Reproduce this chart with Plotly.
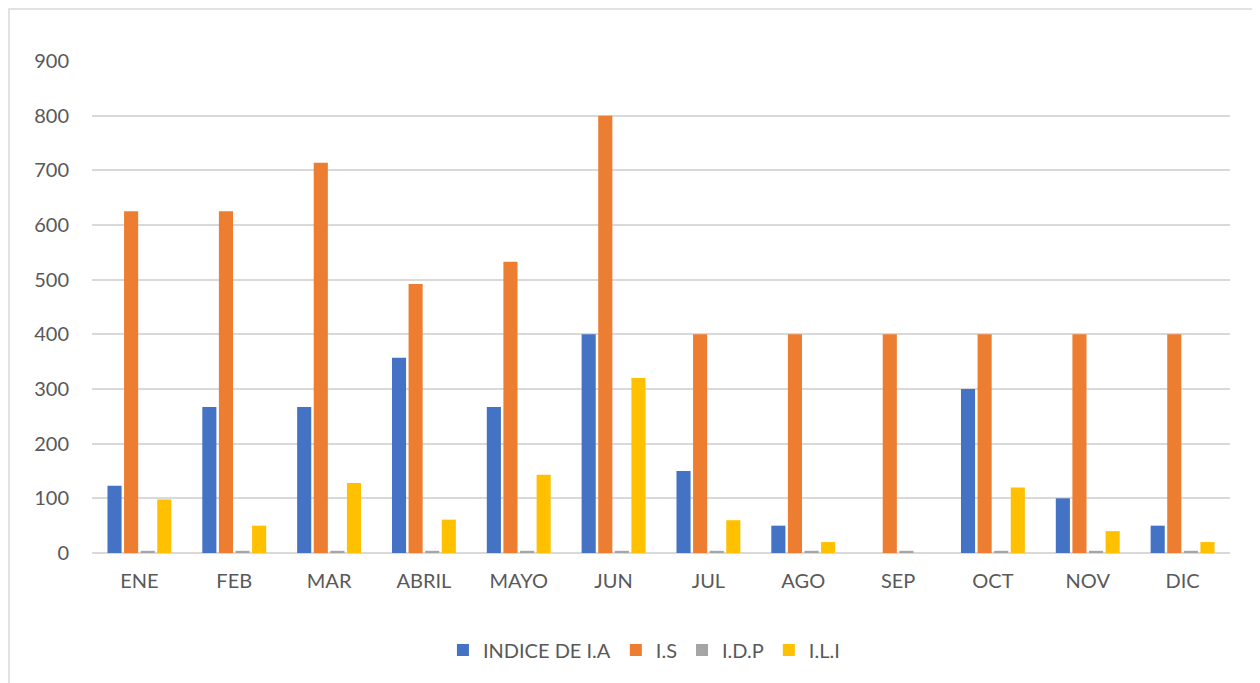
import plotly.graph_objects as go

MONTHS = ["ENE", "FEB", "MAR", "ABRIL", "MAYO", "JUN", "JUL", "AGO", "SEP", "OCT", "NOV", "DIC"]
INDICE_IA = [123, 267, 267, 357, 267, 400, 150, 50, 0, 300, 100, 50]
IS = [625, 625, 714, 492, 533, 800, 400, 400, 400, 400, 400, 400]
IDP = [4, 4, 4, 4, 4, 4, 4, 4, 4, 4, 4, 4]
ILI = [98, 50, 128, 61, 143, 320, 60, 20, 0, 120, 40, 20]

TEXT_COLOR = "#595959"
FONT = "Lato, 'Open Sans', sans-serif"

series = [
    ("INDICE DE I.A", INDICE_IA, "#4472C4"),
    ("I.S", IS, "#ED7D31"),
    ("I.D.P", IDP, "#A5A5A5"),
    ("I.L.I", ILI, "#FFC000"),
]

fig = go.Figure()
for name, vals, color in series:
    fig.add_trace(go.Bar(x=MONTHS, y=vals, name=name, marker=dict(color=color, line=dict(width=0))))

# page body has an 8px margin, so the figure is a bit smaller than the window
fig.update_layout(
    width=1252,
    height=675,
    barmode="group",
    bargap=0.3,
    bargroupgap=0.15,
    plot_bgcolor="white",
    paper_bgcolor="white",
    margin=dict(l=84, r=30, t=53, b=130),
    font=dict(family=FONT, size=20, color=TEXT_COLOR),
    xaxis=dict(showline=False, ticks="", ticklabelstandoff=14, tickfont=dict(size=20, color=TEXT_COLOR)),
    yaxis=dict(
        range=[0, 900],
        dtick=100,
        gridcolor="#D9D9D9",
        gridwidth=1.5,
        zeroline=True,
        zerolinecolor="#D9D9D9",
        zerolinewidth=1.5,
        showline=False,
        ticks="",
        ticklabelstandoff=22,
        tickfont=dict(size=20, color=TEXT_COLOR),
    ),
    legend=dict(
        orientation="h",
        x=0.485,
        xanchor="center",
        y=-0.197,
        yanchor="middle",
        font=dict(size=20, color=TEXT_COLOR),
        itemwidth=30,
        tracegroupgap=0,
    ),
    shapes=[
        # chart frame (top and left edges show, the rest runs off the page)
        dict(
            type="rect",
            xref="paper",
            yref="paper",
            x0=-83 / 1138,
            x1=1.06,
            y0=-0.5,
            y1=1 + 52 / 492,
            line=dict(color="#D9D9D9", width=1.5),
            fillcolor="rgba(0,0,0,0)",
            layer="below",
        )
    ],
)

fig.write_html("out.html")
